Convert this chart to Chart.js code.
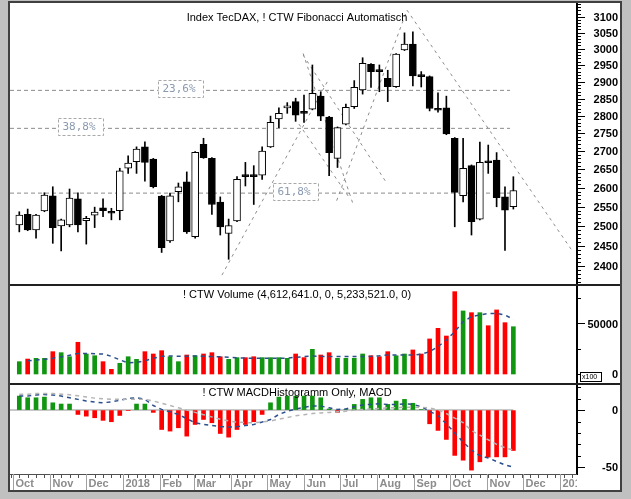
<!DOCTYPE html>
<html>
<head>
<meta charset="utf-8">
<title>TecDAX</title>
<script src="https://cdn.jsdelivr.net/npm/chart.js@4.4.1/dist/chart.umd.min.js"></script>
<style>
  html, body { margin: 0; padding: 0; }
  body { width: 631px; height: 499px; background: #c0c0c0; position: relative; overflow: hidden; }
  #frame { position: absolute; left: 8px; top: 1px; width: 614px; height: 491px; box-sizing: border-box; border: 2px solid #404040; background: #fff; }
  canvas { position: absolute; left: 10px; }
  .sep { position: absolute; left: 10px; width: 610px; height: 2px; background: #202020; }
</style>
</head>
<body>
<div id="frame"></div>
<canvas id="priceChart" width="608" height="282" style="top:3px;width:608px;height:282px"></canvas>
<canvas id="volumeChart" width="608" height="98" style="top:286px;width:608px;height:98px"></canvas>
<canvas id="macdChart" width="608" height="105" style="top:385px;width:608px;height:105px"></canvas>
<div class="sep" style="top:284px"></div>
<div class="sep" style="top:383px"></div>
<script>
// weekly candles, week ending dates
const weekEnding = [
  "2017-10-06","2017-10-13","2017-10-20","2017-10-27","2017-11-03","2017-11-10","2017-11-17","2017-11-24",
  "2017-12-01","2017-12-08","2017-12-15","2017-12-22","2017-12-29","2018-01-05","2018-01-12","2018-01-19",
  "2018-01-26","2018-02-02","2018-02-09","2018-02-16","2018-02-23","2018-03-02","2018-03-09","2018-03-16",
  "2018-03-23","2018-03-30","2018-04-06","2018-04-13","2018-04-20","2018-04-27","2018-05-04","2018-05-11",
  "2018-05-18","2018-05-25","2018-06-01","2018-06-08","2018-06-15","2018-06-22","2018-06-29","2018-07-06",
  "2018-07-13","2018-07-20","2018-07-27","2018-08-03","2018-08-10","2018-08-17","2018-08-24","2018-08-31",
  "2018-09-07","2018-09-14","2018-09-21","2018-09-28","2018-10-05","2018-10-12","2018-10-19","2018-10-26",
  "2018-11-02","2018-11-09","2018-11-16","2018-11-23"
];
const openPrice = [2503,2530,2490,2539,2579,2500,2503,2571,2514,2528,2547,2535,2540,2653,2671,2712,2678,2578,2462,2590,
  2616,2473,2719,2680,2562,2481,2513,2632,2633,2634,2712,2791,2823,2841,2809,2819,2857,2796,2680,2776,
  2826,2875,2952,2932,2910,2885,2996,3014,2917,2915,2817,2823,2736,2579,2660,2518,2669,2675,2576,2550];
const highPrice = [2537,2544,2530,2587,2603,2518,2597,2587,2525,2549,2571,2546,2653,2687,2712,2726,2680,2580,2586,2613,
  2643,2699,2736,2682,2576,2518,2630,2669,2660,2712,2799,2823,2838,2851,2860,2950,2870,2798,2768,2834,
  2903,2972,2954,2950,2934,2985,3049,3052,2930,2917,2867,2857,2738,2736,2662,2725,2717,2696,2603,2630];
const lowPrice = [2485,2488,2469,2537,2456,2437,2498,2485,2454,2496,2524,2516,2516,2639,2639,2618,2600,2433,2458,2563,
  2481,2469,2680,2530,2477,2416,2511,2605,2556,2623,2710,2766,2807,2784,2781,2817,2786,2633,2655,2774,
  2821,2863,2883,2870,2841,2883,2994,2887,2884,2814,2810,2746,2498,2563,2477,2516,2639,2550,2438,2544];
const closePrice = [2528,2490,2528,2581,2496,2516,2573,2503,2520,2536,2540,2533,2646,2667,2706,2669,2603,2445,2579,2603,
  2485,2697,2682,2556,2498,2501,2623,2630,2630,2700,2781,2807,2826,2802,2807,2865,2799,2696,2766,2824,
  2883,2955,2930,2930,2885,2983,3014,2917,2915,2821,2816,2748,2588,2653,2511,2669,2668,2574,2541,2593];

// volume (x100) and its moving average
const volume = [12200,14800,15500,15500,22100,21100,17100,31400,19800,18100,12200,4600,10600,17100,14500,22100,19800,23100,17100,12200,
  18800,18100,19800,21100,17100,14500,16200,16200,17100,16200,16200,16200,15500,19800,16200,24400,18800,21100,15500,15500,
  15500,19800,18100,17100,22100,18100,19800,23800,19800,34700,45200,37600,81500,62400,60700,60700,47800,63400,50800,46800];
const volumeAvg = [null,13000,13900,14500,15500,17000,18500,20400,20400,20000,19800,17500,14000,11000,11500,13000,15500,17500,17800,17500,
  17500,17800,17500,17200,17000,16500,16000,15800,15500,15500,15500,15500,15800,16500,17200,17800,17500,17200,17200,17200,
  17200,17200,17500,18000,18800,18800,18800,18800,19500,22100,27000,33700,41900,51800,56800,58500,60000,60000,58400,54100];

// MACD histogram and the two dashed lines
const macdHist = [12.3,10.8,10.8,11.4,6.4,5.3,5.3,-3.8,-5.3,-6.7,-9,-10.2,-4.7,-0.5,5.3,5.3,-2,-17,-18.4,-15.5,
  -22.8,-12.6,-8.2,-11.1,-20.5,-23.7,-17,-12.6,-10.2,-3.8,6.4,11.4,12.3,12.3,12.3,12.3,10.8,1,-2,0.5,
  5,9.4,10.8,10.8,5,7.9,9.4,6,0.5,-12,-17.8,-25.7,-39.7,-43.9,-52.6,-45.3,-41.2,-41,-41,-35.4];
const macdLine = [12.3,12.3,13.2,13.7,13.2,12.3,10.8,9.4,7.9,7,6.4,7.3,8.5,10.2,10.8,9.4,4,0.6,-1.5,-3.8,
  -7.5,-11.1,-12.5,-13.5,-14.5,-14.9,-14.5,-13.5,-12.6,-10.5,-8.2,-3.8,-1,1,2.5,3.5,3.5,2,0.5,1,
  3,4.5,5,5.5,5,5,5.5,5,3,-1,-5,-12,-20,-28,-35,-40,-42,-45,-48,-50];
const signalLine = [14,14,14.5,14.5,14.5,14,13.5,12.5,11.5,10.5,10,9.5,9.5,9.5,9.5,9.4,8,6,4,2,
  0,-2,-4,-6,-8,-9.5,-10.5,-11,-11,-10.5,-9.5,-8,-6.5,-5,-4,-3,-2.5,-2,-1.5,-1,
  0,0.5,1,1.5,2,2,2.5,2.5,2.5,2,0,-3,-7,-11,-18,-22,-26,-30,-33,-35];

// axis labels
const priceTicks = [2400,2450,2500,2550,2600,2650,2700,2750,2800,2850,2900,2950,3000,3050,3100];
const volumeTicks = [0, 50000];
const volumeMinor = [25000, 75000];
const macdTicks = [0, -50];
const macdMinor = [20, 10, -10, -20, -30, -40];
const monthStarts = ["2017-10-01","2017-11-01","2017-12-01","2018-01-01","2018-02-01","2018-03-01","2018-04-01","2018-05-01",
  "2018-06-01","2018-07-01","2018-08-01","2018-09-01","2018-10-01","2018-11-01","2018-12-01","2019-01-01"];
const monthLabels = ["Oct","Nov","Dec","2018","Feb","Mar","Apr","May","Jun","Jul","Aug","Sep","Oct","Nov","Dec","2019"];

// Fibonacci retracement levels and fan lines [week, price, week, price]
const fibLevels = [2874, 2764, 2586];
const fibLabels = ["23,6%", "38,8%", "61,8%"];
const fibLabelWeek = [16.6, 4.6, 30.3];
const fibEndWeek = 58.6;
const fanLines = [
  [24.2, 2377, 36.9, 2905],
  [33.9, 2980, 43.9, 2612],
  [37.9, 2566, 46.3, 3121],
  [46.3, 3121, 66.0, 2438],
  [33.9, 2985, 39.9, 2554],
  [33.4, 2776, 39.5, 2571]
];

const DAY = 864e5;
function weekIndex(d) { return (Date.parse(d) - Date.parse(weekEnding[0])) / (7 * DAY); }
const weeks = weekEnding.map(weekIndex);
const X_MIN = -1.11, X_MAX = 66.6;
const isUp = weeks.map((w, i) => closePrice[i] >= openPrice[i]);
const GREEN = "#119611", RED = "#ff0000";

function xAxis() {
  return { type: "linear", min: X_MIN, max: X_MAX, offset: false, display: false };
}

function rightAxis(type, min, max) {
  return {
    type: type, min: min, max: max, position: "right",
    grid: { drawOnChartArea: false, drawTicks: false },
    border: { display: true, color: "#000", width: 2 },
    ticks: { display: false },
    afterFit: s => { s.width = 41; }
  };
}

// tick marks and labels on the right axis, placed with the chart's y scale
function axisMarks(major, minor) {
  return {
    id: "axisMarks",
    afterDraw(chart) {
      const y = chart.scales.y, a = chart.chartArea, ctx = chart.ctx;
      ctx.save();
      ctx.strokeStyle = "#000";
      ctx.lineWidth = 1;
      const mark = (v, len) => {
        const p = Math.round(y.getPixelForValue(v)) + 0.5;
        if (p < a.top || p > a.bottom) return;
        ctx.beginPath();
        ctx.moveTo(a.right, p);
        ctx.lineTo(a.right + len, p);
        ctx.stroke();
      };
      minor.forEach(v => mark(v, 4));
      major.forEach(v => mark(v, 8));
      ctx.font = "bold 11px 'Liberation Sans'";
      ctx.fillStyle = "#000";
      ctx.textAlign = "right";
      ctx.textBaseline = "middle";
      major.forEach(v => ctx.fillText(String(v), chart.width, y.getPixelForValue(v) + 1));
      ctx.restore();
    }
  };
}

function titleText(text, y) {
  return {
    id: "titleText",
    afterDraw(chart) {
      const ctx = chart.ctx;
      ctx.save();
      ctx.font = "11px 'Liberation Sans'";
      ctx.fillStyle = "#000";
      ctx.textAlign = "center";
      ctx.textBaseline = "middle";
      ctx.fillText(text, 287, y);
      ctx.restore();
    }
  };
}

const common = {
  responsive: false, animation: false, events: [],
  layout: { padding: 0 },
  datasets: { bar: { grouped: false } }
};
const noPlugins = { legend: { display: false }, tooltip: { enabled: false } };

// ---------- price panel ----------
const minorPrice = [];
for (let v = 2360; v <= 3140; v += 10) if (v % 50) minorPrice.push(v);

const fibBoxes = {
  id: "fibBoxes",
  afterDatasetsDraw(chart) {
    const x = chart.scales.x, y = chart.scales.y, ctx = chart.ctx;
    ctx.save();
    ctx.font = "11px 'DejaVu Sans Mono'";
    ctx.textBaseline = "middle";
    fibLevels.forEach((lv, k) => {
      const px = Math.round(x.getPixelForValue(fibLabelWeek[k])) + 0.5;
      const py = Math.round(y.getPixelForValue(lv)) - 1.5;
      ctx.fillStyle = "#fff";
      ctx.fillRect(px, py - 8, 45, 17);
      ctx.setLineDash([3, 2]);
      ctx.strokeStyle = "#a8a8a8";
      ctx.strokeRect(px, py - 8, 45, 17);
      ctx.fillStyle = "#8a9ab0";
      ctx.fillText(fibLabels[k], px + 4, py + 1);
    });
    ctx.restore();
  }
};

new Chart(document.getElementById("priceChart"), {
  type: "bar",
  data: {
    datasets: [
      {
        label: "wick", order: 2, barThickness: 1, backgroundColor: "#000",
        data: weeks.map((w, i) => ({ x: w, y: [lowPrice[i], highPrice[i]] }))
      },
      {
        label: "body", order: 1, barThickness: 7, minBarLength: 2,
        borderColor: "#000", borderWidth: 1, borderSkipped: false,
        backgroundColor: isUp.map(u => u ? "#fff" : "#000"),
        data: weeks.map((w, i) => ({ x: w, y: [openPrice[i], closePrice[i]] }))
      },
      ...fibLevels.map(lv => ({
        type: "line", order: 3, borderColor: "#8c8c8c", borderWidth: 1, borderDash: [4, 3], pointRadius: 0,
        data: [{ x: X_MIN, y: lv }, { x: fibEndWeek, y: lv }]
      })),
      ...fanLines.map(l => ({
        type: "line", order: 3, borderColor: "#8c8c8c", borderWidth: 1, borderDash: [3, 4], pointRadius: 0,
        data: [{ x: l[0], y: l[1] }, { x: l[2], y: l[3] }]
      }))
    ]
  },
  options: Object.assign({}, common, {
    plugins: noPlugins,
    scales: { x: xAxis(), y: rightAxis("logarithmic", 2353, 3144) }
  }),
  plugins: [fibBoxes, axisMarks(priceTicks, minorPrice), titleText("Index TecDAX, ! CTW Fibonacci Automatisch", 15)]
});

// ---------- volume panel ----------
const x100Box = {
  id: "x100Box",
  afterDraw(chart) {
    const a = chart.chartArea, ctx = chart.ctx;
    const y0 = Math.round(chart.scales.y.getPixelForValue(0));
    ctx.save();
    ctx.fillStyle = "#fff";
    ctx.fillRect(a.right + 3, y0 - 2, 21, 9);
    ctx.strokeStyle = "#000";
    ctx.lineWidth = 1;
    ctx.strokeRect(a.right + 3.5, y0 - 1.5, 21, 9);
    ctx.font = "7px 'Liberation Sans'";
    ctx.fillStyle = "#000";
    ctx.textBaseline = "middle";
    ctx.fillText("x100", a.right + 5, y0 + 3);
    ctx.restore();
  }
};

new Chart(document.getElementById("volumeChart"), {
  type: "bar",
  data: {
    datasets: [
      {
        label: "avg", type: "line", order: 0, borderColor: "#2b4f8c", borderWidth: 1.5, borderDash: [4, 4],
        pointRadius: 0, spanGaps: true,
        data: weeks.map((w, i) => ({ x: w, y: volumeAvg[i] }))
      },
      {
        label: "volume", order: 1, barThickness: 4,
        backgroundColor: isUp.map(u => u ? GREEN : RED),
        data: weeks.map((w, i) => ({ x: w, y: volume[i] }))
      }
    ]
  },
  options: Object.assign({}, common, {
    plugins: noPlugins,
    scales: { x: xAxis(), y: rightAxis("linear", -9900, 87100) }
  }),
  plugins: [axisMarks(volumeTicks, volumeMinor), x100Box, titleText("! CTW Volume (4,612,641.0, 0, 5,233,521.0, 0)", 9)]
});

// ---------- MACD panel + time axis ----------
const timeAxis = {
  id: "timeAxis",
  afterDraw(chart) {
    const x = chart.scales.x, a = chart.chartArea, ctx = chart.ctx;
    ctx.save();
    ctx.beginPath();
    ctx.rect(a.left, a.bottom - 1, a.right - a.left, 20);
    ctx.clip();
    ctx.strokeStyle = "#505050";
    ctx.lineWidth = 1;
    ctx.beginPath();
    ctx.moveTo(a.left, a.bottom + 0.5);
    ctx.lineTo(a.right, a.bottom + 0.5);
    ctx.stroke();
    for (let w = Math.ceil(X_MIN); w <= X_MAX; w++) {
      const px = Math.round(x.getPixelForValue(w)) + 0.5;
      ctx.beginPath();
      ctx.moveTo(px, a.bottom);
      ctx.lineTo(px, a.bottom + 4);
      ctx.stroke();
    }
    ctx.font = "bold 11px 'Liberation Sans'";
    ctx.textBaseline = "middle";
    monthStarts.forEach((d, k) => {
      const px = Math.round(x.getPixelForValue(weekIndex(d))) + 0.5;
      ctx.strokeStyle = "#a0a0a0";
      ctx.beginPath();
      ctx.moveTo(px, a.bottom);
      ctx.lineTo(px, a.bottom + 16);
      ctx.stroke();
      ctx.fillStyle = "#8c8c8c";
      ctx.fillText(monthLabels[k], px + 2, a.bottom + 10);
    });
    ctx.restore();
  }
};

new Chart(document.getElementById("macdChart"), {
  type: "bar",
  data: {
    datasets: [
      {
        label: "zero", type: "line", order: 3, borderColor: "#c8c8c8", borderWidth: 2, pointRadius: 0,
        data: [{ x: X_MIN, y: 0 }, { x: weeks[weeks.length - 1], y: 0 }]
      },
      {
        label: "signal", type: "line", order: 0, borderColor: "#b4b4b4", borderWidth: 1.5, borderDash: [4, 4], pointRadius: 0,
        data: weeks.map((w, i) => ({ x: w, y: signalLine[i] }))
      },
      {
        label: "macd", type: "line", order: 0, borderColor: "#2b4f8c", borderWidth: 1.5, borderDash: [4, 4], pointRadius: 0,
        data: weeks.map((w, i) => ({ x: w, y: macdLine[i] }))
      },
      {
        label: "hist", order: 1, barThickness: 4,
        backgroundColor: macdHist.map(v => v >= 0 ? GREEN : RED),
        data: weeks.map((w, i) => ({ x: w, y: macdHist[i] }))
      }
    ]
  },
  options: Object.assign({}, common, {
    layout: { padding: { bottom: 16 } },
    plugins: noPlugins,
    scales: { x: xAxis(), y: rightAxis("linear", -56, 22) }
  }),
  plugins: [axisMarks(macdTicks, macdMinor), timeAxis, titleText("! CTW MACDHistogramm Only, MACD", 8)]
});
</script>
</body>
</html>
